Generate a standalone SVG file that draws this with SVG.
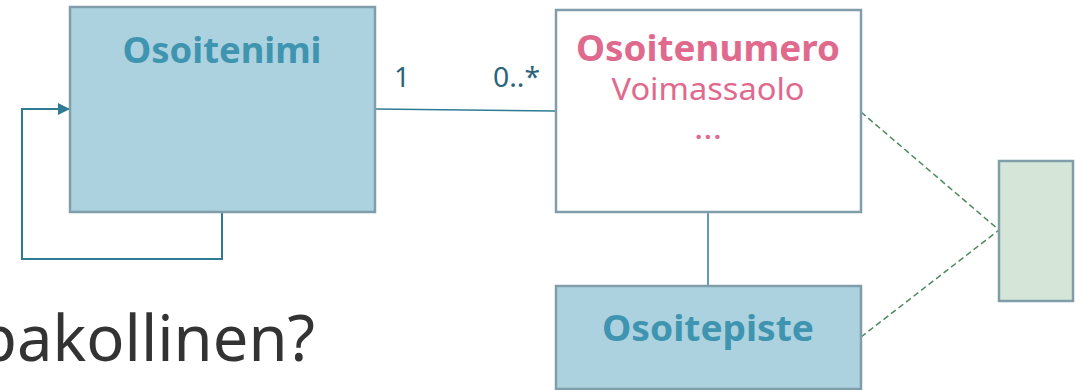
<svg xmlns="http://www.w3.org/2000/svg" width="1084" height="390" viewBox="0 0 1084 390">
<style>
.box{stroke:#7f9eaa;stroke-width:2.5}
.blue{fill:#acd2e0}
.t{font-family:"Noto Sans","Open Sans",sans-serif}
.title{font-weight:bold;font-size:36px;text-anchor:middle}
.conn{fill:none;stroke:#2f7b94;stroke-width:2}
.dash{fill:none;stroke:#4f8a5f;stroke-width:1.5;stroke-dasharray:6 3.5}
.mult{font-size:27px;fill:#2b6479}
</style>
<defs>
<marker id="arr" markerWidth="12" markerHeight="12" refX="11" refY="6" orient="auto" markerUnits="userSpaceOnUse">
<path d="M0,0 L12,6 L0,12 Z" fill="#2f7b94"/>
</marker>
</defs>
<rect width="1084" height="390" fill="#ffffff"/>
<g id="connectors">
<path class="conn" d="M222,212 V259 H22 V109 H69" marker-end="url(#arr)"/>
<line x1="375" y1="109" x2="556" y2="111" stroke="#2f7b94" stroke-width="1.5"/>
<line x1="708" y1="212" x2="708" y2="286" stroke="#2f7b94" stroke-width="1.5"/>
<line class="dash" x1="861" y1="112" x2="999" y2="230"/>
<line class="dash" x1="861" y1="337" x2="999" y2="230"/>
<text class="t mult" x="394" y="87" textLength="16" lengthAdjust="spacingAndGlyphs">1</text>
<text class="t mult" x="493" y="87" textLength="47" lengthAdjust="spacingAndGlyphs">0..*</text>
</g>
<g id="osoitenimi">
<rect class="box blue" x="70" y="7" width="305" height="205"/>
<text class="t title" x="222" y="63" fill="#3f94b0" textLength="199" lengthAdjust="spacingAndGlyphs">Osoitenimi</text>
</g>
<g id="osoitenumero">
<rect class="box" x="556" y="10" width="305" height="202" fill="#ffffff"/>
<text class="t title" x="708" y="61" fill="#df6a8d" textLength="264" lengthAdjust="spacingAndGlyphs">Osoitenumero</text>
<text class="t" x="708" y="100" font-size="30" fill="#df6a8d" text-anchor="middle" textLength="193" lengthAdjust="spacingAndGlyphs">Voimassaolo</text>
<text class="t" x="708" y="139" font-size="30" fill="#df6a8d" text-anchor="middle" textLength="28" lengthAdjust="spacingAndGlyphs">...</text>
</g>
<g id="osoitepiste">
<rect class="box blue" x="556" y="286" width="305" height="103"/>
<text class="t title" x="708" y="341" fill="#3f94b0" textLength="212" lengthAdjust="spacingAndGlyphs">Osoitepiste</text>
</g>
<g id="green">
<rect class="box" x="999" y="161" width="74" height="140" fill="#d5e6d9"/>
</g>
<text class="t" x="-22" y="361" font-size="63" fill="#333333" textLength="337" lengthAdjust="spacingAndGlyphs">pakollinen?</text>
</svg>
